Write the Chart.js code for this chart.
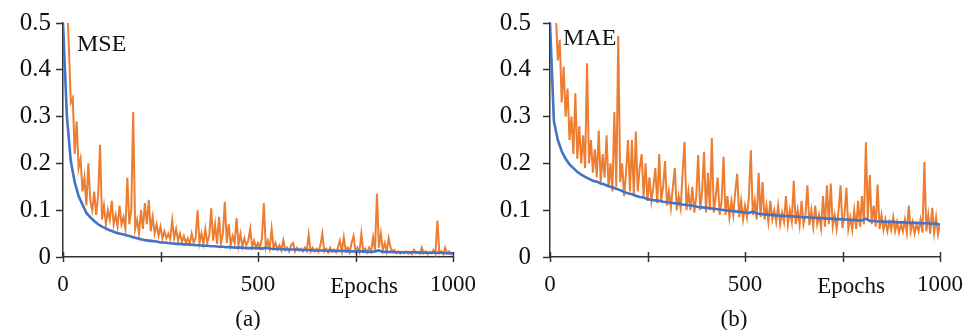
<!DOCTYPE html>
<html>
<head>
<meta charset="utf-8">
<script src="https://cdn.jsdelivr.net/npm/chart.js@4.4.1/dist/chart.umd.min.js"></script>
<style>
  body { margin: 0; background: #fff; }
  #wrap { position: relative; width: 964px; height: 330px; overflow: hidden; font-family: "Liberation Serif", "DejaVu Serif", serif; color: #111; }
  .panel { position: absolute; top: 0; width: 482px; height: 330px; }
  .txt { position: absolute; white-space: nowrap; line-height: 1; }
  .ctr { transform: translateX(-50%); }
</style>
</head>
<body>
<div id="wrap">
  <div class="panel" style="left:0"><canvas id="chart-a" width="482" height="330"></canvas></div>
  <div class="panel" style="left:482px"><canvas id="chart-b" width="482" height="330"></canvas></div>
  <div class="txt" style="left:77px; top:31px; font-size:24px">MSE</div>
  <div class="txt" style="left:563px; top:25px; font-size:24px">MAE</div>
  <div class="txt ctr" style="left:364px; top:274px; font-size:23px">Epochs</div>
  <div class="txt ctr" style="left:851px; top:274px; font-size:23px">Epochs</div>
  <div class="txt ctr" style="left:248px; top:307px; font-size:23px">(a)</div>
  <div class="txt ctr" style="left:734px; top:307px; font-size:23px">(b)</div>
</div>
<script>
// x positions: orange curves every 5 epochs, blue curves every 10 epochs
const fineEpochs = Array.from({ length: 201 }, (_, i) => i * 5);
const coarseEpochs = Array.from({ length: 101 }, (_, i) => i * 10);

// (a) MSE
const mseBlue = [
  0.50, 0.30, 0.205, 0.16, 0.13, 0.112, 0.094, 0.085, 0.077, 0.070,
  0.065, 0.061, 0.057, 0.054, 0.051, 0.049, 0.047, 0.045, 0.042, 0.040,
  0.038, 0.036, 0.035, 0.034, 0.033, 0.031, 0.031, 0.030, 0.029, 0.028,
  0.028, 0.027, 0.027, 0.026, 0.025, 0.025, 0.024, 0.024, 0.023, 0.023,
  0.022, 0.022, 0.021, 0.021, 0.020, 0.020, 0.020, 0.019, 0.019, 0.019,
  0.019, 0.018, 0.020, 0.018, 0.017, 0.017, 0.017, 0.016, 0.016, 0.016,
  0.016, 0.015, 0.015, 0.015, 0.014, 0.014, 0.014, 0.014, 0.013, 0.013,
  0.013, 0.013, 0.013, 0.012, 0.012, 0.012, 0.012, 0.012, 0.011, 0.011,
  0.012, 0.014, 0.011, 0.011, 0.011, 0.010, 0.010, 0.010, 0.010, 0.010,
  0.010, 0.010, 0.009, 0.009, 0.009, 0.009, 0.009, 0.009, 0.008, 0.008,
  0.008
];
const mseOrange = [
  0.95, 0.75, 0.56, 0.45, 0.33, 0.34, 0.22, 0.29, 0.19, 0.21,
  0.14, 0.17, 0.11, 0.20, 0.12, 0.10, 0.14, 0.09, 0.13, 0.24,
  0.08, 0.11, 0.07, 0.10, 0.08, 0.12, 0.07, 0.09, 0.065, 0.11,
  0.07, 0.085, 0.06, 0.17, 0.07, 0.10, 0.31, 0.06, 0.08, 0.05,
  0.10, 0.06, 0.115, 0.07, 0.122, 0.055, 0.086, 0.05, 0.07, 0.045,
  0.065, 0.04, 0.055, 0.04, 0.05, 0.038, 0.079, 0.04, 0.06, 0.035,
  0.05, 0.032, 0.045, 0.03, 0.04, 0.028, 0.05, 0.03, 0.04, 0.10,
  0.03, 0.05, 0.028, 0.06, 0.03, 0.045, 0.104, 0.035, 0.07, 0.028,
  0.086, 0.03, 0.05, 0.118, 0.03, 0.07, 0.025, 0.045, 0.03, 0.083,
  0.025, 0.05, 0.022, 0.04, 0.025, 0.035, 0.06, 0.022, 0.035, 0.02,
  0.03, 0.02, 0.04, 0.115, 0.02, 0.035, 0.018, 0.06, 0.02, 0.03,
  0.016, 0.025, 0.014, 0.036, 0.015, 0.02, 0.012, 0.025, 0.03, 0.012,
  0.02, 0.014, 0.018, 0.012, 0.02, 0.013, 0.048, 0.012, 0.02, 0.012,
  0.018, 0.011, 0.025, 0.05, 0.012, 0.018, 0.01, 0.02, 0.012, 0.016,
  0.01, 0.02, 0.035, 0.012, 0.042, 0.014, 0.02, 0.01, 0.03, 0.045,
  0.012, 0.02, 0.01, 0.05, 0.012, 0.018, 0.01, 0.02, 0.012, 0.042,
  0.015, 0.135, 0.02, 0.05, 0.015, 0.03, 0.012, 0.04, 0.02, 0.012,
  0.015, 0.008, 0.012, 0.007, 0.01, 0.008, 0.012, 0.007, 0.01, 0.006,
  0.015, 0.008, 0.01, 0.007, 0.02, 0.008, 0.012, 0.006, 0.01, 0.008,
  0.015, 0.007, 0.078, 0.008, 0.012, 0.006, 0.02, 0.008, 0.012, 0.006,
  0.01
];

// (b) MAE
const maeBlue = [
  0.50, 0.29, 0.25, 0.226, 0.21, 0.198, 0.19, 0.182, 0.176, 0.171,
  0.167, 0.163, 0.161, 0.157, 0.155, 0.151, 0.149, 0.146, 0.143, 0.139,
  0.136, 0.134, 0.131, 0.128, 0.127, 0.124, 0.122, 0.121, 0.120, 0.118,
  0.117, 0.116, 0.115, 0.114, 0.112, 0.111, 0.110, 0.109, 0.107, 0.106,
  0.105, 0.104, 0.103, 0.102, 0.101, 0.100, 0.099, 0.098, 0.097, 0.096,
  0.095, 0.094, 0.097, 0.093, 0.092, 0.091, 0.090, 0.090, 0.089, 0.088,
  0.088, 0.087, 0.087, 0.086, 0.086, 0.085, 0.085, 0.084, 0.084, 0.083,
  0.083, 0.082, 0.082, 0.081, 0.081, 0.080, 0.080, 0.079, 0.079, 0.078,
  0.078, 0.082, 0.077, 0.077, 0.076, 0.076, 0.075, 0.075, 0.075, 0.074,
  0.074, 0.074, 0.073, 0.073, 0.073, 0.072, 0.072, 0.072, 0.071, 0.071,
  0.069
];
const maeOrange = [
  0.95, 0.8, 0.62, 0.52, 0.42, 0.464, 0.33, 0.407, 0.3, 0.36,
  0.25, 0.3, 0.22, 0.35, 0.21, 0.28, 0.2, 0.26, 0.19, 0.414,
  0.2, 0.25, 0.18, 0.23, 0.17, 0.27, 0.16, 0.22, 0.17, 0.26,
  0.15, 0.2, 0.14, 0.31, 0.15, 0.472, 0.16, 0.2, 0.13, 0.18,
  0.25, 0.14, 0.25, 0.13, 0.268, 0.14, 0.19, 0.22, 0.13, 0.2,
  0.12, 0.17, 0.12, 0.15, 0.19, 0.115, 0.22, 0.12, 0.15, 0.205,
  0.11, 0.14, 0.105, 0.15, 0.19, 0.1, 0.13, 0.105, 0.18, 0.246,
  0.1, 0.14, 0.1, 0.15, 0.095, 0.13, 0.218, 0.1, 0.14, 0.225,
  0.095, 0.18, 0.1, 0.254, 0.095, 0.13, 0.17, 0.09, 0.12, 0.214,
  0.09, 0.13, 0.085, 0.12, 0.09, 0.14, 0.178, 0.085, 0.12, 0.08,
  0.11, 0.085, 0.13, 0.228, 0.09, 0.12, 0.08, 0.18, 0.085, 0.16,
  0.08, 0.11, 0.075, 0.12, 0.08, 0.1, 0.075, 0.11, 0.07, 0.095,
  0.075, 0.13, 0.07, 0.1, 0.075, 0.163, 0.07, 0.1, 0.068, 0.12,
  0.07, 0.09, 0.153, 0.068, 0.1, 0.065, 0.11, 0.07, 0.09, 0.062,
  0.13, 0.065, 0.153, 0.07, 0.157, 0.065, 0.09, 0.06, 0.1, 0.153,
  0.062, 0.09, 0.148, 0.06, 0.085, 0.058, 0.1, 0.06, 0.12, 0.065,
  0.13, 0.07, 0.245, 0.08, 0.175, 0.07, 0.11, 0.065, 0.155, 0.06,
  0.09, 0.058, 0.08, 0.055, 0.075, 0.058, 0.085, 0.055, 0.075, 0.052,
  0.07, 0.055, 0.08, 0.052, 0.11, 0.055, 0.075, 0.05, 0.07, 0.055,
  0.08, 0.052, 0.203, 0.055, 0.09, 0.05, 0.105, 0.052, 0.085, 0.048,
  0.07
];

const yTicks = [0, 0.1, 0.2, 0.3, 0.4, 0.5];
const xTicks = [0, 250, 500, 750, 1000];
const xLabelled = [0, 500, 1000];

const blueColor = "#4472c4";
const orangeColor = "#ed7d31";
const axisColor = "#333";

function toPoints(xs, ys) {
  return ys.map((y, i) => ({ x: xs[i], y: y }));
}

// tick marks that cross the x axis, like the original
const xTickMarks = {
  id: "xTickMarks",
  afterDraw(chart) {
    const { ctx, chartArea } = chart;
    const x = chart.scales.x;
    ctx.save();
    ctx.strokeStyle = axisColor;
    ctx.lineWidth = 1.5;
    x.ticks.forEach((t) => {
      const px = Math.round(x.getPixelForValue(t.value)) + 0.5;
      ctx.beginPath();
      ctx.moveTo(px, chartArea.bottom - 5);
      ctx.lineTo(px, chartArea.bottom + 5);
      ctx.stroke();
    });
    ctx.restore();
  },
};

function makePanel(id, blue, orange, yWidth, rightPad, labelPad) {
  const ctx = document.getElementById(id).getContext("2d");
  return new Chart(ctx, {
    type: "line",
    data: {
      datasets: [
        {
          label: "blue",
          data: toPoints(coarseEpochs, blue),
          borderColor: blueColor,
          borderWidth: 2.6,
          pointRadius: 0,
          tension: 0,
        },
        {
          label: "orange",
          data: toPoints(fineEpochs, orange),
          borderColor: orangeColor,
          borderWidth: 2,
          pointRadius: 0,
          tension: 0,
        },
      ],
    },
    options: {
      responsive: false,
      animation: false,
      events: [],
      layout: { padding: { top: 23, right: rightPad, bottom: 0, left: 0 } },
      plugins: { legend: { display: false }, tooltip: { enabled: false } },
      scales: {
        x: {
          type: "linear",
          min: 0,
          max: 1000,
          afterFit: (s) => {
            s.height = 73;
            s.paddingLeft = 0;
            s.paddingRight = 0;
          },
          afterBuildTicks: (s) => {
            s.ticks = xTicks.map((v) => ({ value: v }));
          },
          grid: { drawOnChartArea: false, drawTicks: false },
          border: { display: true, color: axisColor, width: 1.5 },
          ticks: {
            padding: 14,
            maxRotation: 0,
            autoSkip: false,
            color: "#111",
            font: { family: "Liberation Serif", size: 23 },
            callback: (v) => (xLabelled.includes(v) ? String(v) : ""),
          },
        },
        y: {
          min: 0,
          max: 0.5,
          afterFit: (s) => {
            s.width = yWidth;
            s.paddingTop = 0;
            s.paddingBottom = 0;
          },
          afterBuildTicks: (s) => {
            s.ticks = yTicks.map((v) => ({ value: v }));
          },
          grid: {
            drawOnChartArea: false,
            drawTicks: true,
            tickLength: 7,
            tickColor: axisColor,
            tickWidth: 1.5,
          },
          border: { display: true, color: axisColor, width: 1.5 },
          ticks: {
            padding: labelPad,
            color: "#111",
            font: { family: "Liberation Serif", size: 25 },
            callback: (v) => (v === 0 ? "0" : v.toFixed(1)),
          },
        },
      },
    },
    plugins: [xTickMarks],
  });
}

makePanel("chart-a", mseBlue, mseOrange, 63, 29, 5);
makePanel("chart-b", maeBlue, maeOrange, 68, 24, 12);
</script>
</body>
</html>
